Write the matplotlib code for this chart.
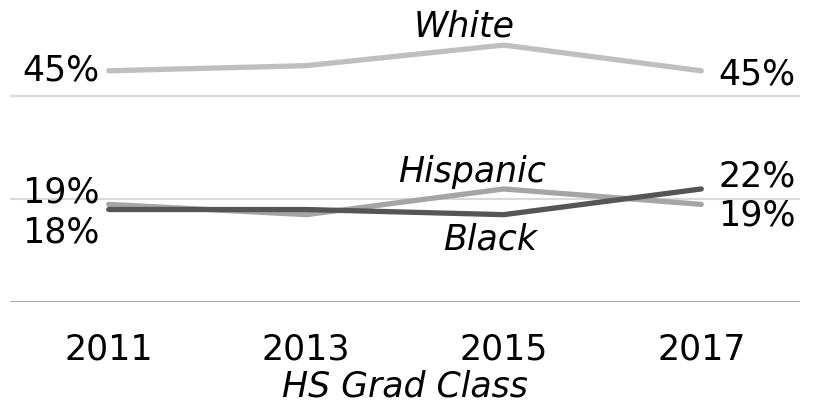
import numpy as np
import matplotlib.pyplot as plt

### Chart data
years = ['2011', '2013', '2015', '2017']
white = [45, 46, 50, 45]
hispanic = [19, 17, 22, 19]
black = [18, 18, 17, 22]

series_names = ['White', 'Hispanic', 'Black']
start_labels = ['45%', '19%', '18%']
end_labels = ['45%', '19%', '22%']

plt.rcParams['font.family'] = ['DejaVu Sans']

fig = plt.figure(figsize=(8.15, 4.12), dpi=100)
ax = fig.add_axes([10 / 815, 110 / 412, 790 / 815, 298 / 412])

x = np.arange(len(years))
colors = ['#bfbfbf', '#a5a5a5', '#555555']
all_series = [white, hispanic, black]

### Gridlines
for g in [20, 40]:
    ax.axhline(g, color='#d9d9d9', lw=1.5, zorder=0)
ax.axhline(0, color='#8c8c8c', lw=1.8, zorder=0)

for vals, c in zip(all_series, colors):
    ax.plot(x, vals, color=c, lw=3.8, solid_capstyle='round', zorder=2)

fs = 25

### Start / end value labels (offsets in pixels)
start_off = [(-9, 0), (-9, 12), (-9, -23)]
end_off = [(17, -4), (17, -11), (17, 12)]
for vals, s, e, so, eo in zip(all_series, start_labels, end_labels, start_off, end_off):
    ax.annotate(s, (x[0], vals[0]), xytext=so, textcoords='offset pixels',
                ha='right', va='center', fontsize=fs, color='black')
    ax.annotate(e, (x[-1], vals[-1]), xytext=eo, textcoords='offset pixels',
                ha='left', va='center', fontsize=fs, color='black')

### Series names near 2015
name_off = [(-40, 19), (-32, 17), (-14, -25)]
for vals, n, o in zip(all_series, series_names, name_off):
    ax.annotate(n, (x[2], vals[2]), xytext=o, textcoords='offset pixels',
                ha='center', va='center', fontsize=fs, style='italic', color='black')

ax.set_xlim(-0.5, 3.5)
ax.set_ylim(0, 58)
ax.set_xticks(x)
ax.set_xticklabels(years, fontsize=fs)
ax.tick_params(axis='x', length=0, pad=22)
ax.set_yticks([])
ax.set_xlabel('HS Grad Class', fontsize=fs, style='italic', labelpad=2)
for sp in ax.spines.values():
    sp.set_visible(False)

fig.savefig('out.png', dpi=100)
